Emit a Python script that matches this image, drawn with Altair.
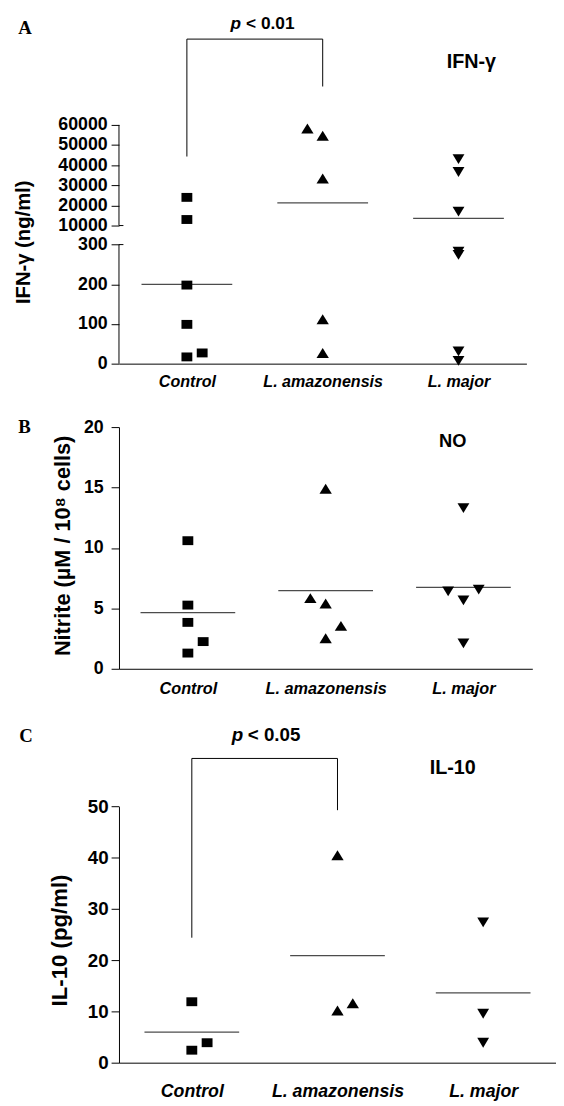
import altair as alt
import pandas as pd

groups = ["Control", "L. amazonensis", "L. major"]

# ---------------- Panel A : IFN-gamma (broken axis) ----------------
a_group = ["Control"] * 6 + ["L. amazonensis"] * 5 + ["L. major"] * 7
a_value = [24000, 13000, 198, 99, 17, 27,
           58200, 54600, 33400, 112, 27,
           43000, 36600, 16900, 282, 274, 31, 7]
a_side = [0, 0, 0, 0, 0, 1,
          -1, 0, 0, 0, 0,
          0, 0, 0, 0, 0, 0, 0]
a_line = [200, 21300, 13600]
a_ticks = [0, 100, 200, 300, 10000, 20000, 30000, 40000, 50000, 60000]
a_break = [0, 300, 10000, 60000]
a_bracket = [102650, 44300, 79100]   # top, left foot, right foot
a_ptext_y = 107700
a_name_y = 88100

# ---------------- Panel B : NO ----------------
b_group = ["Control"] * 5 + ["L. amazonensis"] * 5 + ["L. major"] * 5
b_value = [10.6, 5.27, 3.84, 2.25, 1.3,
           14.9, 5.85, 5.4, 3.55, 2.53,
           13.3, 6.4, 5.66, 6.55, 2.1]
b_side = [0, 0, 0, 1, 0,
          0, -1, 0, 1, 0,
          0, -1, 0, 1, 0]
b_line = [4.65, 6.47, 6.74]
b_ticks = [0, 5, 10, 15, 20]
b_name_y = 18.39

# ---------------- Panel C : IL-10 ----------------
c_group = ["Control"] * 3 + ["L. amazonensis"] * 3 + ["L. major"] * 3
c_value = [11.9, 3.9, 2.44,
           40.5, 10.2, 11.6,
           27.4, 9.56, 3.9]
c_side = [0, 1, 0,
          0, 0, 1,
          0, 0, 0]
c_line = [5.96, 20.9, 13.65]
c_ticks = [0, 10, 20, 30, 40, 50]
c_bracket = [59.4, 24.4, 49.3]
c_ptext_y = 62.8
c_name_y = 56.4

FONT = "Liberation Sans"
SERIF = "Liberation Serif"
SHAPES = ["M-1.1,-0.9H1.1V0.9H-1.1Z",
          "M0,-1L1.25,1L-1.25,1Z",
          "M0,1L1.2,-1L-1.2,-1Z"]


def xaxis(size, pad):
    return alt.Axis(title=None, ticks=False, tickSize=0, labelAngle=0,
                    labelFont=FONT, labelFontStyle="italic", labelFontWeight="bold",
                    labelFontSize=size, labelPadding=pad, labelColor="black",
                    domainColor="black", domainWidth=1, grid=False)


def yaxis(values, title, tx, ty, tsize, lsize, lpad, domain=True, fmt="d"):
    return alt.Axis(values=values, format=fmt, title=title, titleX=tx, titleY=ty,
                    titleAngle=270, titleAlign="center", titleBaseline="middle",
                    titleFont=FONT, titleFontSize=tsize, titleFontWeight="bold",
                    titleColor="black", labelFont=FONT, labelFontSize=lsize,
                    labelFontWeight="bold", labelColor="black", labelPadding=lpad,
                    labelOverlap=False, tickSize=8, tickColor="black", tickWidth=1,
                    domain=domain, domainColor="black", domainWidth=1, grid=False)


def panel(letter, letter_xy, group, value, side, line, yscale, yax, xax,
          line_size, name, name_y, name_dx, name_size, bracket=None, ptext=None):
    xs = alt.Scale(type="point", domain=groups, padding=0.5)
    X = lambda f: alt.X(f"{f}:N", scale=xs, axis=xax)
    Y = lambda f: alt.Y(f"{f}:Q", scale=yscale, axis=yax)

    df = pd.DataFrame({"group": group, "value": value, "side": side})
    pts = alt.Chart(df).mark_point(filled=True, size=100, opacity=1, color="black").encode(
        x=X("group"),
        xOffset=alt.XOffset("side:Q", scale=alt.Scale(domain=[-1, 1], range=[-15.5, 15.5])),
        y=Y("value"),
        shape=alt.Shape("group:N", scale=alt.Scale(domain=groups, range=SHAPES), legend=None),
    )
    mdf = pd.DataFrame({"group": groups, "mean": line})
    means = alt.Chart(mdf).mark_tick(color="black", thickness=1.3, size=line_size,
                                     orient="horizontal").encode(x=X("group"), y=Y("mean"))

    ndf = pd.DataFrame({"group": ["L. major"], "y": [name_y], "t": [name]})
    nm = alt.Chart(ndf).mark_text(font=FONT, fontWeight="bold", fontSize=name_size,
                                  color="black", dx=name_dx, baseline="alphabetic").encode(
        x=X("group"), y=Y("y"), text="t:N")

    ldf = pd.DataFrame({"t": [letter]})
    let = alt.Chart(ldf).mark_text(font=SERIF, fontWeight="bold", fontSize=19, color="black",
                                   baseline="alphabetic", align="center").encode(
        x=alt.value(letter_xy[0]), y=alt.value(letter_xy[1]), text="t:N")

    layers = [means, pts, nm, let]

    if bracket is not None:
        top, lft, rgt = bracket
        hdf = pd.DataFrame({"g1": ["Control"], "g2": ["L. amazonensis"], "y": [top]})
        hr = alt.Chart(hdf).mark_rule(color="black", strokeWidth=1).encode(
            x=X("g1"), x2="g2:N", y=Y("y"))
        vdf = pd.DataFrame({"g": ["Control", "L. amazonensis"], "lo": [lft, rgt], "hi": [top, top]})
        vr = alt.Chart(vdf).mark_rule(color="black", strokeWidth=1).encode(
            x=X("g"), y=Y("lo"), y2="hi:Q")
        layers += [hr, vr]
    if ptext is not None:
        py, pdx_p, pdx_rest, psize, label = ptext
        pdf = pd.DataFrame({"group": ["Control"], "y": [py], "p": ["p"], "rest": [label]})
        t1 = alt.Chart(pdf).mark_text(font=FONT, fontWeight="bold", fontStyle="italic",
                                      fontSize=psize, color="black", align="right",
                                      baseline="alphabetic", dx=pdx_p).encode(
            x=X("group"), y=Y("y"), text="p:N")
        t2 = alt.Chart(pdf).mark_text(font=FONT, fontWeight="bold", fontSize=psize,
                                      color="black", align="left", baseline="alphabetic",
                                      dx=pdx_rest).encode(
            x=X("group"), y=Y("y"), text="rest:N")
        layers += [t1, t2]
    return layers


# ---- Panel A
a_scale = alt.Scale(domain=a_break, range=[242, 121.3, 102, 0], nice=False, zero=False)
a_yax = yaxis(a_ticks, "IFN-γ (ng/ml)", -96.3, 118.5, 20.5, 18, 4, domain=False)
a_layers = panel("A", (-95.2, -92), a_group, a_value, a_side, a_line, a_scale, a_yax,
                 xaxis(16.3, 10.5), 92, "IFN-γ", a_name_y, 13, 20,
                 bracket=a_bracket, ptext=(a_ptext_y, 55, 60, 17.5, "< 0.01"))
# broken y axis: two axis segments plus small caps at the break
seg = pd.DataFrame({"lo": [a_break[0], a_break[2]], "hi": [a_break[1], a_break[3]]})
a_axisline = alt.Chart(seg).mark_rule(color="black", strokeWidth=1).encode(
    x=alt.value(0), y=alt.Y("lo:Q", scale=a_scale, axis=a_yax), y2="hi:Q")
caps = pd.DataFrame({"v": [a_break[1], a_break[2]]})
a_caps = alt.Chart(caps).mark_rule(color="black", strokeWidth=1).encode(
    x=alt.value(0), x2=alt.value(4.5), y=alt.Y("v:Q", scale=a_scale, axis=a_yax))
# invisible layout anchor (fixes the page origin of the figure)
anchor = alt.Chart(pd.DataFrame({"a": [0]})).mark_point(size=1, opacity=0, filled=True).encode(
    x=alt.value(-125), y=alt.value(-125))
pa = alt.layer(*a_layers, a_axisline, a_caps, anchor).properties(width=413, height=242)

# ---- Panel B
b_scale = alt.Scale(domain=[0, 20], range=[245, 0], nice=False, zero=False)
b_yax = yaxis(b_ticks, "Nitrite (µM / 10⁸ cells)", -57.1, 119.9, 22, 18, 8)
b_layers = panel("B", (-95.7, 5.7), b_group, b_value, b_side, b_line, b_scale, b_yax,
                 xaxis(16.5, 12), 96, "NO", b_name_y, -10.9, 18.5)
pb = alt.layer(*b_layers).properties(width=419, height=245)

# ---- Panel C
c_scale = alt.Scale(domain=[0, 50], range=[335, 75.4], nice=False, zero=False)
c_yax = yaxis(c_ticks, "IL-10 (pg/ml)", -60.3, 210.6, 22.5, 19, 3)
c_layers = panel("C", (-94.3, 9.7), c_group, c_value, c_side, c_line, c_scale, c_yax,
                 xaxis(18, 20), 96, "IL-10", c_name_y, -30.9, 20,
                 bracket=c_bracket, ptext=(c_ptext_y, 52, 56.7, 19, "< 0.05"))
pc = alt.layer(*c_layers).properties(width=443, height=335)

chart = alt.vconcat(pa, pb, pc, spacing=64.3, bounds="flush").properties(
    padding={"left": -13.5, "top": -15, "right": 0, "bottom": 0}
).configure_view(stroke=None)

chart.save("out.html", embed_options={"renderer": "svg", "actions": False})
